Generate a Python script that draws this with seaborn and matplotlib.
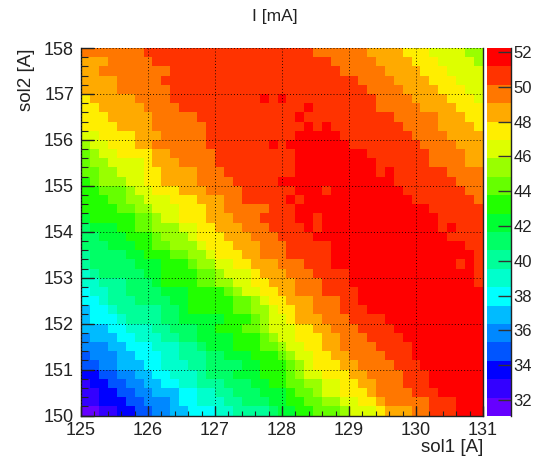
import matplotlib
matplotlib.use("Agg")
import matplotlib.pyplot as plt
from matplotlib.colors import ListedColormap
import numpy as np
import seaborn as sns

# colour bands of the z axis, top (red) to bottom (purple), and their centre in mA
band_colors = ["#ff0000", "#ff3300", "#ff7700", "#ffaa00", "#ffee00", "#ddff00", "#99ff00",
               "#66ff00", "#22ff00", "#00ff33", "#00ff66", "#00ff99", "#00ffcc", "#00ffff",
               "#00bbff", "#0088ff", "#0055ff", "#0000ff", "#3300ff", "#6600ff"]
band_mA = [51.7, 50.65, 49.6, 48.5, 47.45, 46.4, 45.35, 44.3, 43.2, 42.15,
           41.1, 40.05, 39.0, 37.9, 36.85, 35.8, 34.75, 33.7, 32.6, 31.55]
z_min = 31.07
z_max = 52.24

# rows of the histogram from sol2=158 downwards, as (band, number of cells) along sol1
rows = [
    [(2,7),(1,19),(2,6),(3,4),(4,3),(5,4),(6,2)],
    [(3,3),(2,5),(1,20),(2,5),(3,4),(4,3),(5,4),(6,1)],
    [(3,2),(2,8),(1,19),(2,5),(3,4),(4,3),(5,4)],
    [(3,4),(2,5),(1,22),(2,4),(3,4),(4,3),(5,3)],
    [(3,4),(2,6),(1,22),(2,4),(3,4),(4,3),(5,2)],
    [(4,1),(3,5),(2,4),(1,10),(0,1),(1,1),(0,1),(1,10),(2,4),(3,4),(4,3),(5,1)],
    [(4,2),(3,5),(2,4),(1,14),(0,1),(1,7),(2,5),(3,4),(4,3)],
    [(4,3),(3,5),(2,5),(1,11),(0,1),(1,10),(2,5),(3,3),(4,2)],
    [(4,4),(3,4),(2,6),(1,11),(0,1),(1,1),(0,1),(1,8),(2,4),(3,4),(4,1)],
    [(5,2),(4,4),(3,3),(2,5),(1,10),(0,5),(1,8),(2,4),(3,4)],
    [(6,1),(5,2),(4,3),(3,2),(2,6),(1,7),(0,1),(1,1),(0,7),(1,8),(2,4),(3,3)],
    [(7,1),(6,1),(5,2),(4,4),(3,2),(2,5),(1,9),(0,8),(1,7),(2,4),(3,2)],
    [(7,1),(6,2),(5,4),(4,1),(3,3),(2,4),(1,9),(0,9),(1,6),(2,4),(3,2)],
    [(7,2),(6,2),(5,3),(4,2),(3,4),(2,3),(1,8),(0,9),(1,1),(0,1),(1,6),(2,4)],
    [(8,1),(7,1),(6,3),(5,2),(4,2),(3,4),(2,4),(1,5),(0,13),(1,7),(2,3)],
    [(8,2),(7,3),(6,1),(5,2),(4,3),(3,3),(2,4),(1,6),(0,3),(1,1),(0,8),(1,7),(2,2)],
    [(8,3),(7,2),(6,2),(5,3),(4,3),(3,3),(2,2),(1,5),(0,1),(1,1),(0,12),(1,7),(2,1)],
    [(8,4),(7,2),(6,2),(5,3),(4,3),(3,2),(2,5),(1,3),(0,15),(1,6)],
    [(9,1),(8,5),(7,2),(6,1),(5,2),(4,3),(3,3),(2,3),(1,4),(0,2),(1,1),(0,13),(1,5)],
    [(10,1),(9,3),(8,2),(7,2),(6,3),(5,2),(4,2),(3,3),(2,3),(1,4),(0,1),(1,1),(0,13),(1,1),(0,1),(1,3)],
    [(10,2),(9,3),(8,3),(7,1),(6,3),(5,1),(4,3),(3,3),(2,3),(1,4),(0,15),(1,4)],
    [(10,3),(9,3),(8,2),(7,2),(6,3),(5,1),(4,3),(3,3),(2,3),(1,5),(0,15),(1,2)],
    [(11,1),(10,4),(9,2),(8,3),(7,2),(6,2),(5,1),(4,3),(3,2),(2,3),(1,5),(0,16),(1,1)],
    [(11,1),(10,5),(9,3),(8,3),(7,1),(6,2),(5,2),(4,2),(3,3),(2,3),(1,3),(0,14),(1,1),(0,1),(1,1)],
    [(12,1),(11,1),(10,5),(9,2),(8,4),(7,2),(6,1),(5,3),(4,1),(3,3),(2,3),(1,4),(0,14),(1,1)],
    [(12,2),(11,3),(10,3),(9,1),(8,4),(7,2),(6,2),(5,2),(4,2),(3,3),(2,3),(1,3),(0,14),(1,1)],
    [(13,1),(12,2),(11,2),(10,4),(9,3),(8,4),(7,1),(6,1),(5,2),(4,2),(3,2),(2,3),(1,4),(0,14)],
    [(13,2),(12,1),(11,3),(10,4),(9,2),(8,5),(7,2),(6,1),(5,1),(4,2),(3,3),(2,3),(1,2),(0,14)],
    [(14,1),(13,2),(12,1),(11,5),(10,2),(9,1),(8,5),(7,2),(6,2),(5,1),(4,2),(3,2),(2,3),(1,3),(0,13)],
    [(14,1),(13,3),(12,1),(11,4),(10,2),(9,5),(8,3),(7,1),(6,1),(5,2),(4,1),(3,3),(2,3),(1,4),(0,11)],
    [(14,3),(13,2),(12,3),(11,2),(10,3),(9,2),(8,3),(7,2),(6,1),(5,3),(4,2),(3,2),(2,3),(1,4),(0,10)],
    [(15,1),(14,3),(13,2),(12,3),(11,2),(10,2),(9,4),(8,3),(7,1),(6,1),(5,2),(4,3),(3,2),(2,3),(1,4),(0,9)],
    [(15,3),(14,2),(13,3),(12,3),(11,2),(10,1),(9,3),(8,3),(7,2),(6,1),(5,2),(4,2),(3,2),(2,4),(1,4),(0,8)],
    [(16,1),(15,3),(14,2),(13,3),(12,2),(11,3),(10,2),(9,3),(8,3),(7,1),(6,1),(5,2),(4,2),(3,2),(2,4),(1,3),(0,8)],
    [(16,2),(15,2),(14,3),(13,2),(12,3),(11,2),(10,4),(9,2),(8,3),(7,1),(6,1),(5,1),(4,3),(3,2),(2,4),(1,3),(0,7)],
    [(17,2),(16,2),(15,2),(14,2),(13,2),(12,3),(11,1),(10,3),(9,3),(8,3),(7,1),(6,1),(5,2),(4,3),(3,2),(2,4),(1,3),(0,6)],
    [(18,1),(17,2),(16,2),(15,2),(14,2),(13,2),(12,2),(11,3),(10,3),(9,2),(8,2),(7,2),(6,2),(5,2),(4,2),(3,2),(2,3),(1,3),(0,6)],
    [(18,2),(17,2),(16,2),(15,2),(14,3),(13,2),(12,2),(11,2),(10,3),(9,3),(8,1),(7,2),(6,1),(5,2),(4,3),(3,1),(2,4),(1,3),(0,5)],
    [(18,2),(17,3),(16,2),(15,3),(14,1),(13,2),(12,3),(11,2),(10,3),(9,2),(8,2),(7,2),(6,2),(5,2),(4,2),(3,1),(2,5),(1,3),(0,3)],
    [(19,2),(18,2),(17,2),(16,2),(15,2),(14,2),(13,3),(12,2),(11,4),(10,1),(9,2),(8,2),(7,3),(6,1),(5,3),(4,1),(3,3),(2,2),(1,3),(0,3)],
]

x_ticks = [125, 126, 127, 128, 129, 130, 131]
y_ticks = [158, 157, 156, 155, 154, 153, 152, 151, 150]
z_ticks = [32, 34, 36, 38, 40, 42, 44, 46, 48, 50, 52]
x_range = (125, 131)
y_range = (150, 158)

grid = []
for row in rows:
    cells = []
    for band, n in row:
        cells += [band_mA[band]] * n
    if len(cells) != 45:
        print("bad row", len(grid), len(cells))
    grid.append(cells)
grid = np.array(grid)
nrow, ncol = grid.shape

W, H = 537, 457
plt.rcParams['font.family'] = ['Liberation Sans', 'DejaVu Sans']
ink = "#222222"

fig = plt.figure(figsize=(W / 100, H / 100), dpi=100)
ax = fig.add_axes([81 / W, 1 - 415.5 / H, 402 / W, 367.5 / H])
cax = fig.add_axes([487 / W, 1 - 416 / H, 23.5 / W, 368 / H])

sns.heatmap(grid, ax=ax, cbar_ax=cax, cmap=ListedColormap(band_colors[::-1]),
            vmin=z_min, vmax=z_max, xticklabels=False, yticklabels=False)

def xpos(v):
    return (np.asarray(v) - x_range[0]) / (x_range[1] - x_range[0]) * ncol

def ypos(v):
    return (y_range[1] - np.asarray(v)) / (y_range[1] - y_range[0]) * nrow

ax.set_xticks(xpos(x_ticks))
ax.set_xticklabels(x_ticks)
ax.set_yticks(ypos(y_ticks))
ax.set_yticklabels(y_ticks)
ax.set_xticks(xpos(np.arange(125, 131.01, 0.2)), minor=True)
ax.set_yticks(ypos(np.arange(150, 158.01, 0.2)), minor=True)

ax.tick_params(axis='x', which='major', direction='in', length=7, width=1, color=ink,
               labelsize=13, labelcolor=ink, pad=5)
ax.tick_params(axis='x', which='minor', direction='in', length=3.6, width=0.8, color=ink)
ax.tick_params(axis='y', which='major', direction='in', length=9.5, width=1, color=ink,
               labelsize=13, labelcolor=ink, pad=5)
ax.tick_params(axis='y', which='minor', direction='in', length=4.7, width=0.8, color=ink)

ax.set_axisbelow(False)
ax.grid(True, which='major', color='black', linestyle=(0, (1, 2.2)), linewidth=0.7, alpha=0.85)

for side in ['left', 'bottom', 'right']:
    ax.spines[side].set_visible(True)
    ax.spines[side].set_color(ink)
    ax.spines[side].set_linewidth(1)
ax.spines['top'].set_visible(False)

ax.set_xlabel("sol1 [A]", fontsize=13.5, color=ink, loc='right')
ax.xaxis.set_label_coords(1.0, -0.064)
ax.set_ylabel("sol2 [A]", fontsize=13.5, color=ink, loc='top')
ax.yaxis.set_label_coords(-0.114, 1.0)
fig.text(275 / W, 1 - 17 / H, "I [mA]", fontsize=12.5, color=ink, ha='center', va='center')

cbar = ax.collections[0].colorbar
cbar.set_ticks(z_ticks)
cbar.set_ticklabels(z_ticks)
cbar.ax.tick_params(direction='in', length=9.5, width=1, color="#333333", labelsize=12,
                    labelcolor=ink, pad=2)
cbar.outline.set_visible(False)
cax.spines['right'].set_visible(True)
cax.spines['right'].set_color(ink)
cax.spines['right'].set_linewidth(1)

fig.savefig("out.png", dpi=100)
